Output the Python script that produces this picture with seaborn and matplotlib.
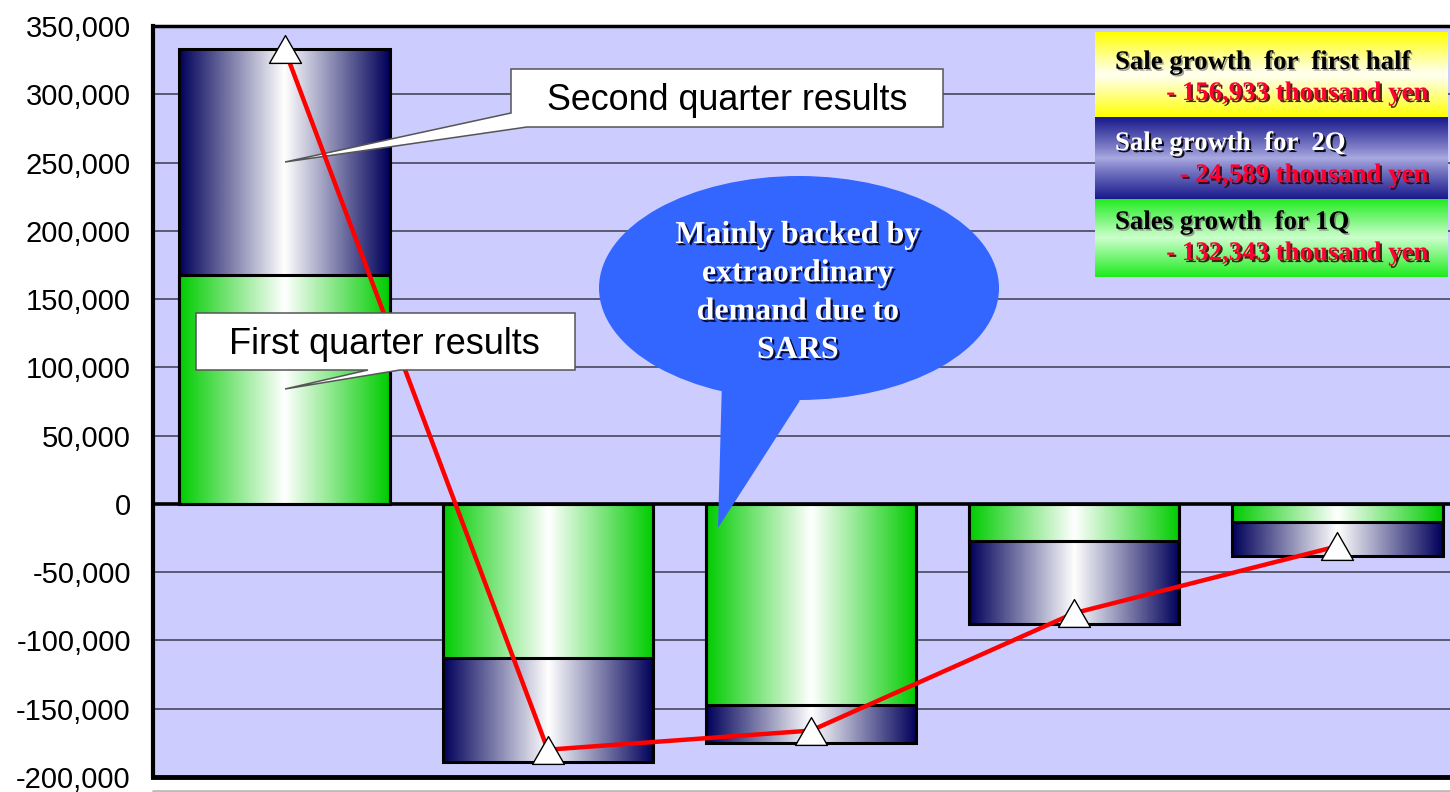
import numpy as np
import pandas as pd
import matplotlib
matplotlib.use("Agg")
import matplotlib.pyplot as plt
import matplotlib.patches as mpatches
import matplotlib.transforms as mtransforms
import matplotlib.patheffects as pe
from matplotlib.lines import Line2D
from matplotlib.path import Path
from matplotlib.ticker import FuncFormatter
import seaborn as sns

# ---- data (thousand yen) ----
segments = ["A", "B", "C", "D", "E"]
q1_growth = [168000, -113000, -147000, -27000, -13000]
q2_growth = [165000, -76000, -28000, -61000, -25000]
half_trend = [333000, -180000, -166000, -80000, -31000]

y_ticks = list(range(-200000, 350001, 50000))

summary_titles = ["Sale growth  for  first half", "Sale growth  for  2Q", "Sales growth  for 1Q"]
summary_values = ["- 156,933 thousand yen", "- 24,589 thousand yen", "- 132,343 thousand yen"]

note_q2 = "Second quarter results"
note_q1 = "First quarter results"
note_sars = "Mainly backed by\nextraordinary\ndemand due to\nSARS"

# ---- figure / axes ----
sns.set_theme(style="white")
plt.rcParams["font.family"] = ["Liberation Sans", "DejaVu Sans"]

W, H = 1450, 792
fig = plt.figure(figsize=(W / 100, H / 100), dpi=100, facecolor="white")
ax = fig.add_axes([153 / W, 1 - 777 / H, (1469 - 153) / W, (777 - 26) / H])
ax.set_facecolor("#CCCCFF")

# layout helper: pixel coordinates measured from the top-left corner
pix = mtransforms.Affine2D().scale(1 / W, -1 / H).translate(0, 1) + fig.transFigure

df = pd.DataFrame({"segment": segments, "q1": q1_growth, "q2": q2_growth})
df["total"] = df["q1"] + df["q2"]

# stacked bars: full (1Q+2Q) bar first, 1Q bar drawn over it
sns.barplot(data=df, x="segment", y="total", ax=ax, width=0.8, errorbar=None,
            color="white", edgecolor="black", linewidth=2.2, zorder=4)
sns.barplot(data=df, x="segment", y="q1", ax=ax, width=0.8, errorbar=None,
            color="white", edgecolor="black", linewidth=2.2, zorder=4)
bars = list(ax.patches)
for b in bars:
    b.set_facecolor("none")
    b.set_zorder(4)


def h_gradient(edge_rgb, n=256):
    t = np.abs(np.linspace(-1, 1, n))
    edge = np.array(edge_rgb) / 255.0
    img = (1 - t)[:, None] * np.ones(3) + t[:, None] * edge
    return img[None, :, :]


navy_img = h_gradient((0, 0, 90))
green_img = h_gradient((0, 204, 0))

for i, b in enumerate(bars):
    x, y, w, h = b.get_x(), b.get_y(), b.get_width(), b.get_height()
    img = navy_img if i < len(segments) else green_img
    ax.imshow(img, extent=(x, x + w, min(y, y + h), max(y, y + h)),
              aspect="auto", interpolation="bilinear",
              zorder=2 if i < len(segments) else 3)

# red trend line with wide white triangle markers
tri = Path([(0, 0.87), (-1, -0.87), (1, -0.87), (0, 0.87)],
           [Path.MOVETO, Path.LINETO, Path.LINETO, Path.CLOSEPOLY])
sns.lineplot(x=np.arange(len(segments)), y=half_trend, ax=ax, color="#FF0000",
             lw=3.2, marker=tri, markersize=23, markerfacecolor="white",
             markeredgecolor="black", markeredgewidth=1, zorder=6, legend=False,
             sort=False)

ax.set_xlim(-0.5, 4.5)
ax.set_ylim(-200000, 350000)

# axes styling
ax.set_yticks(y_ticks)
ax.yaxis.set_major_formatter(FuncFormatter(lambda v, _: f"{int(v):,}"))
ax.yaxis.grid(True, color="#3a3a4a", lw=1.1)
ax.set_axisbelow(True)
ax.axhline(0, color="black", lw=2.6, zorder=1.5)
ax.set_xticks(range(len(segments)))
ax.set_xticklabels([""] * len(segments))
ax.set_xlabel("")
ax.set_ylabel("")
ax.tick_params(axis="y", length=0, pad=16, labelsize=21, labelcolor="black")
ax.tick_params(axis="x", direction="in", length=10, width=2.2, color="black")
for side, lw in (("left", 3), ("top", 2.5), ("bottom", 3.5), ("right", 0)):
    ax.spines[side].set_linewidth(lw)
    ax.spines[side].set_color("black")

fig.add_artist(Line2D([153 / W, 1.0], [1 - 790.5 / H] * 2, color="#BBBBBB", lw=2))

# ---- callout boxes ----
callout_font = ["Liberation Sans", "DejaVu Sans"]
q2_box = mpatches.Polygon([(511, 69), (943, 69), (943, 127), (527, 127), (285, 162), (511, 113)],
                          closed=True, transform=pix, facecolor="white", edgecolor="#555555",
                          lw=1.1, zorder=5, clip_on=False)
ax.add_patch(q2_box)
ax.text(727, 110, note_q2, transform=pix, ha="center", va="baseline", fontsize=25.8,
        family=callout_font, color="black", zorder=5.5)

q1_box = mpatches.Polygon([(196, 313), (575, 313), (575, 370), (400, 370), (285, 389), (368, 370), (196, 370)],
                          closed=True, transform=pix, facecolor="white", edgecolor="#555555",
                          lw=1.1, zorder=7, clip_on=False)
ax.add_patch(q1_box)
ax.text(384, 354, note_q1, transform=pix, ha="center", va="baseline", fontsize=26,
        family=callout_font, color="black", zorder=7.5)

# speech bubble
bubble_col = "#3366FF"
ax.add_patch(mpatches.Ellipse((799, 288), 400, 224, transform=pix, facecolor=bubble_col,
                              edgecolor="none", zorder=7, clip_on=False))
ax.add_patch(mpatches.Polygon([(722, 380), (805, 385), (799, 402), (718, 528)], closed=True,
                              transform=pix, facecolor=bubble_col, edgecolor="none",
                              zorder=7, clip_on=False))
serif = ["Liberation Serif", "DejaVu Serif"]
shadow_dark = [pe.withSimplePatchShadow(offset=(1.6, -1.6), shadow_rgbFace="#000022", alpha=0.9)]
for k, line in enumerate(note_sars.split("\n")):
    ax.text(798, 243 + 38.3 * k, line, transform=pix, ha="center", va="baseline",
            fontsize=23, fontweight="bold", family=serif, color="white",
            path_effects=shadow_dark, zorder=8)

# ---- summary panels ----
def v_gradient(edge_rgb, center_rgb, n=128, power=1.0):
    t = np.abs(np.linspace(-1, 1, n)) ** power
    e = np.array(edge_rgb) / 255.0
    c = np.array(center_rgb) / 255.0
    return ((1 - t)[:, None] * c + t[:, None] * e)[:, None, :]


panels = [
    (32, 117, v_gradient((255, 255, 0), (255, 255, 240), power=1.1), "black"),
    (117, 199, v_gradient((25, 25, 140), (170, 170, 225), power=0.9), "white"),
    (199, 277, v_gradient((30, 235, 30), (205, 255, 205), power=1.0), "black"),
]
x_left, x_right = 1095, 1448
for (top, bot, img, tcol), title, value in zip(panels, summary_titles, summary_values):
    pax = fig.add_axes([x_left / W, 1 - bot / H, (x_right - x_left) / W, (bot - top) / H])
    pax.imshow(img, aspect="auto", interpolation="bilinear", extent=(0, 1, 0, 1))
    pax.set_axis_off()

baselines = [(69, 100), (150, 182), (229, 260)]
title_fx = {
    "black": [pe.withSimplePatchShadow(offset=(1.2, -1.2), shadow_rgbFace="#777777", alpha=0.7)],
    "white": [pe.withSimplePatchShadow(offset=(1.5, -1.5), shadow_rgbFace="#000000", alpha=0.9)],
}
red_fx = [pe.withSimplePatchShadow(offset=(1.5, -1.5), shadow_rgbFace="#330000", alpha=0.85)]
for (b1, b2), (_, _, _, tcol), title, value in zip(baselines, panels, summary_titles, summary_values):
    fig.text(1115, b1, title, transform=pix, ha="left", va="baseline", fontsize=19.3,
             fontweight="bold", family=serif, color=tcol, path_effects=title_fx[tcol])
    fig.text(1428, b2, value, transform=pix, ha="right", va="baseline", fontsize=19.3,
             fontweight="bold", family=serif, color="#FF0033", path_effects=red_fx)

fig.savefig("out.png", dpi=100, facecolor="white")
